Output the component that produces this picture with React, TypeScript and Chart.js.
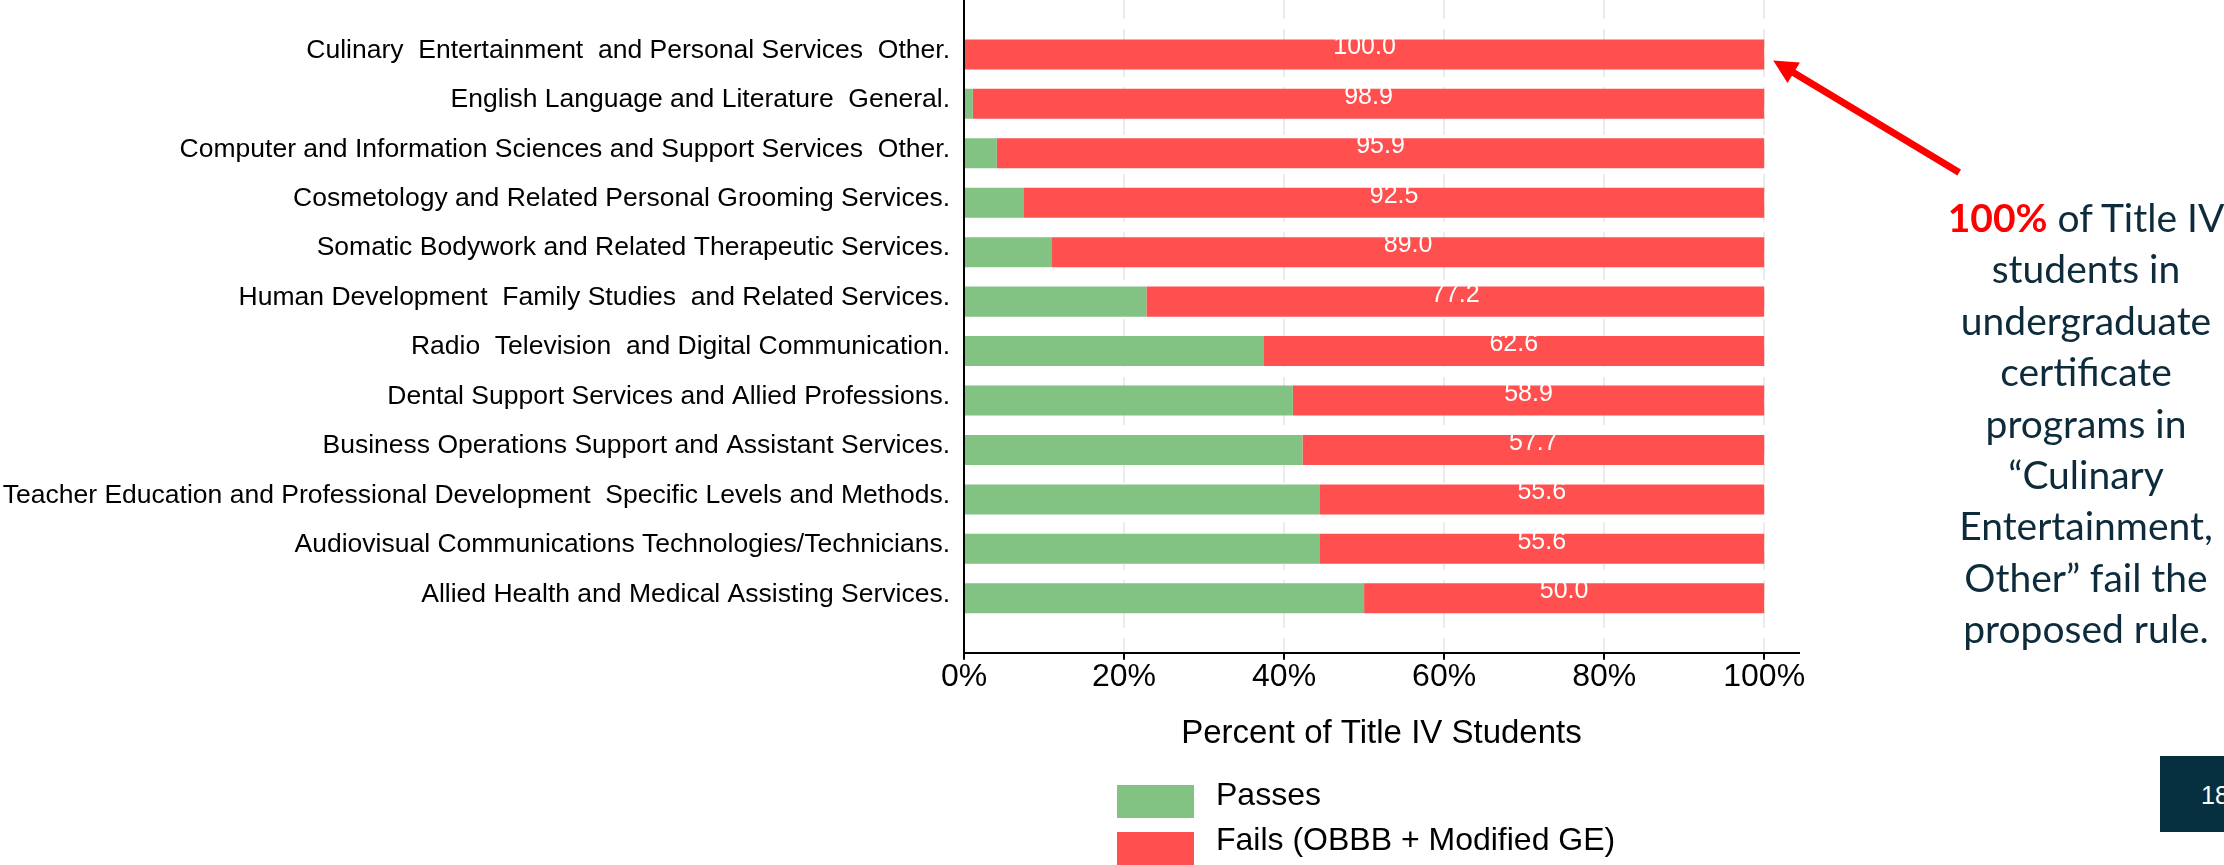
import React, { useEffect, useRef } from "react";
import { Chart, registerables } from "chart.js";

Chart.register(...registerables);

// ---------- data ----------
const categories: string[] = [
  "Culinary  Entertainment  and Personal Services  Other.",
  "English Language and Literature  General.",
  "Computer and Information Sciences and Support Services  Other.",
  "Cosmetology and Related Personal Grooming Services.",
  "Somatic Bodywork and Related Therapeutic Services.",
  "Human Development  Family Studies  and Related Services.",
  "Radio  Television  and Digital Communication.",
  "Dental Support Services and Allied Professions.",
  "Business Operations Support and Assistant Services.",
  "Teacher Education and Professional Development  Specific Levels and Methods.",
  "Audiovisual Communications Technologies/Technicians.",
  "Allied Health and Medical Assisting Services.",
];
const passes: number[] = [0, 1.1, 4.1, 7.5, 11.0, 22.8, 37.4, 41.1, 42.3, 44.4, 44.4, 50.0];
const fails: number[] = [100.0, 98.9, 95.9, 92.5, 89.0, 77.2, 62.6, 58.9, 57.7, 55.6, 55.6, 50.0];
const xTicks: number[] = [0, 20, 40, 60, 80, 100];
const seriesNames: string[] = ["Passes", "Fails (OBBB + Modified GE)"];
const axisTitle = "Percent of Title IV Students";
const annotationLines: string[] = [
  "of Title IV",
  "students in",
  "undergraduate",
  "certificate",
  "programs in",
  "\u201CCulinary",
  "Entertainment,",
  "Other\u201D fail the",
  "proposed rule.",
];
const annotationHighlight = "100%";
const pageNumber = "18";

// ---------- styles ----------
const W = 2224;
const H = 865;
const GREEN = "#82c283";
const RED = "#ff4f4f";
const FONT = "'Liberation Sans', Arial, sans-serif";
const NAVY = "#0d2b3a";

const barLabelPlugin = {
  id: "barLabels",
  afterDatasetsDraw(chart: any) {
    const meta = chart.getDatasetMeta(1);
    const ctx = chart.ctx;
    ctx.save();
    ctx.fillStyle = "#ffffff";
    ctx.font = `25px ${FONT}`;
    ctx.textAlign = "center";
    ctx.textBaseline = "alphabetic";
    meta.data.forEach((bar: any, i: number) => {
      const { x, y, base } = bar.getProps(["x", "y", "base"], true);
      ctx.fillText(fails[i].toFixed(1), (x + base) / 2, y);
    });
    ctx.restore();
  },
};

const arrowPlugin = {
  id: "arrow",
  afterDraw(chart: any) {
    const xs = chart.scales.x;
    const ys = chart.scales.y;
    const tipX = xs.getPixelForValue(100) + 9;
    const tipY = ys.getPixelForValue(0) + 6;
    const tailX = tipX + 186;
    const tailY = tipY + 112;
    const ang = Math.atan2(tipY - tailY, tipX - tailX);
    const headLen = 24;
    const headHalf = 12;
    const bx = tipX - headLen * Math.cos(ang);
    const by = tipY - headLen * Math.sin(ang);
    const px = -Math.sin(ang);
    const py = Math.cos(ang);
    const ctx = chart.ctx;
    ctx.save();
    ctx.strokeStyle = "#ff0000";
    ctx.fillStyle = "#ff0000";
    ctx.lineWidth = 7;
    ctx.beginPath();
    ctx.moveTo(tailX, tailY);
    ctx.lineTo(bx + 2 * Math.cos(ang), by + 2 * Math.sin(ang));
    ctx.stroke();
    ctx.beginPath();
    ctx.moveTo(tipX, tipY);
    ctx.lineTo(bx + px * headHalf, by + py * headHalf);
    ctx.lineTo(bx - px * headHalf, by - py * headHalf);
    ctx.closePath();
    ctx.fill();
    ctx.restore();
  },
};

export default function App() {
  const canvasRef = useRef<HTMLCanvasElement | null>(null);

  useEffect(() => {
    if (!canvasRef.current) return;
    const chart = new Chart(canvasRef.current, {
      type: "bar",
      data: {
        datasets: [
          {
            label: seriesNames[0],
            data: passes.map((v, i) => ({ x: v, y: i })),
            backgroundColor: GREEN,
            borderWidth: 0,
            categoryPercentage: 1,
            barPercentage: 0.607,
          },
          {
            label: seriesNames[1],
            data: fails.map((v, i) => ({ x: v, y: i })),
            backgroundColor: RED,
            borderWidth: 0,
            categoryPercentage: 1,
            barPercentage: 0.607,
          },
        ] as any,
      },
      options: {
        indexAxis: "y",
        responsive: false,
        animation: false,
        devicePixelRatio: 1,
        layout: { padding: { left: 0, top: 0, right: 425, bottom: 114.5 } },
        plugins: {
          legend: { display: false },
          tooltip: { enabled: false },
        },
        scales: {
          x: {
            type: "linear",
            stacked: true,
            min: 0,
            max: 104.35,
            afterBuildTicks: (s: any) => {
              s.ticks = xTicks.map((v) => ({ value: v }));
            },
            afterFit: (s: any) => {
              s.height = 97.8;
            },
            ticks: {
              callback: (v: any) => `${v}%`,
              font: { family: FONT, size: 32, lineHeight: 1 },
              color: "#000000",
              padding: 1,
              maxRotation: 0,
              autoSkip: false,
            },
            grid: {
              color: "#ececec",
              lineWidth: 2,
              drawTicks: true,
              tickLength: 7,
              tickColor: "#000000",
              tickWidth: 2,
            },
            border: { display: true, color: "#000000", width: 2, dash: [19, 10] },
            title: {
              display: true,
              text: axisTitle,
              font: { family: FONT, size: 33, lineHeight: 1 },
              color: "#000000",
              padding: { top: 0, bottom: 0 },
            },
          },
          y: {
            type: "linear",
            reverse: true,
            stacked: true,
            offset: false,
            min: -1.1,
            max: 12.1,
            afterBuildTicks: (s: any) => {
              s.ticks = categories.map((_, i) => ({ value: i }));
            },
            afterFit: (s: any) => {
              s.width = 964;
              s.paddingTop = 0;
              s.paddingBottom = 0;
            },
            ticks: {
              callback: (v: any) => categories[v] ?? "",
              font: { family: FONT, size: 26.5 },
              color: "#000000",
              padding: 14,
              autoSkip: false,
              labelOffset: -4,
            },
            grid: { display: false, drawTicks: false, offset: false },
            border: { display: true, color: "#000000", width: 2 },
          },
        },
      } as any,
      plugins: [barLabelPlugin, arrowPlugin],
    });
    return () => chart.destroy();
  }, []);

  const legendColors = [GREEN, RED];
  const legendTops = [785, 832];
  const legendTextTops = [778, 823];

  return (
    <div
      style={{
        position: "absolute",
        left: 0,
        top: 0,
        width: W,
        height: H,
        overflow: "hidden",
        background: "#ffffff",
      }}
    >
      <canvas ref={canvasRef} width={W} height={H} style={{ position: "absolute", left: 0, top: 0, width: W, height: H }} />

      {seriesNames.map((name, i) => (
        <React.Fragment key={name}>
          <div
            style={{
              position: "absolute",
              left: 1117,
              top: legendTops[i],
              width: 77,
              height: 33,
              background: legendColors[i],
            }}
          />
          <div
            style={{
              position: "absolute",
              left: 1216,
              top: legendTextTops[i],
              fontFamily: FONT,
              fontSize: 32,
              lineHeight: "32px",
              color: "#000000",
              whiteSpace: "pre",
            }}
          >
            {name}
          </div>
        </React.Fragment>
      ))}

      <div
        style={{
          position: "absolute",
          left: 1936,
          top: 192,
          width: 300,
          textAlign: "center",
          fontFamily: "Lato, 'Open Sans', sans-serif",
          fontSize: 39,
          lineHeight: "51.4px",
          color: NAVY,
        }}
      >
        {annotationLines.map((line, i) => (
          <div key={i} style={{ whiteSpace: "nowrap" }}>
            {i === 0 ? (
              <>
                <span style={{ color: "#ff0000", fontWeight: 700 }}>{annotationHighlight}</span> {line}
              </>
            ) : (
              line
            )}
          </div>
        ))}
      </div>

      <div
        style={{
          position: "absolute",
          left: 2160,
          top: 756,
          width: 80,
          height: 76,
          background: "#06303f",
        }}
      />
      <div
        style={{
          position: "absolute",
          left: 2201,
          top: 783,
          fontFamily: FONT,
          fontSize: 25,
          lineHeight: "25px",
          color: "#ffffff",
        }}
      >
        {pageNumber}
      </div>
    </div>
  );
}
